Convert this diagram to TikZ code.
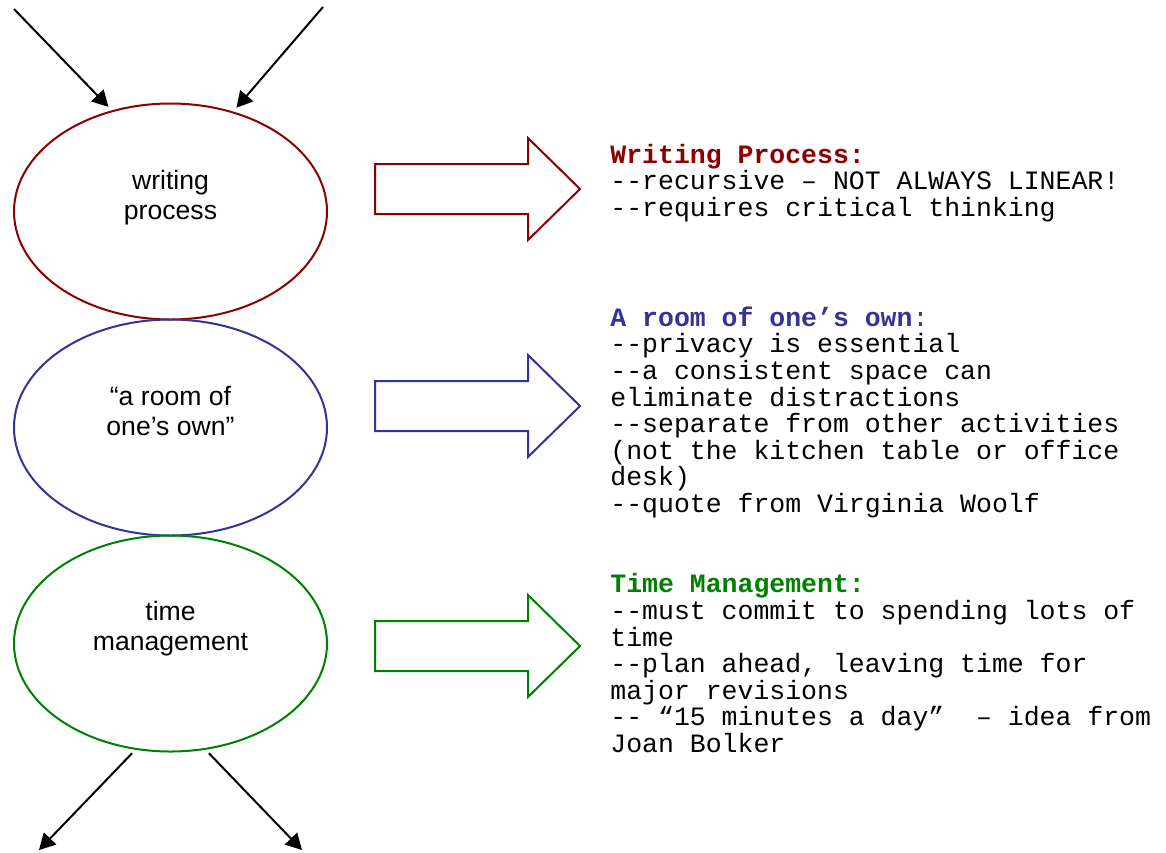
\documentclass[tikz,border=0pt]{standalone}
\usepackage{fontspec}
\setsansfont{Liberation Sans}
\setmonofont{Liberation Mono}
\usepackage{tikz}
\usetikzlibrary{arrows.meta, positioning, calc, shapes.geometric}
\tikzset{>={Triangle[length=8pt,width=8.5pt]}}
\definecolor{wpred}{HTML}{8B0000}
\definecolor{roomblue}{HTML}{333399}
\definecolor{timegreen}{HTML}{008000}

\begin{document}
\begin{tikzpicture}[x=0.5pt, y=-0.5pt,
    bubble/.style={ellipse, draw, line width=1pt, minimum width=156.5pt, minimum height=108pt, inner sep=0pt, outer sep=0pt},
    bubbletext/.style={align=center, font=\sffamily\fontsize{13.3}{15}\selectfont, inner sep=0pt, anchor=base},
    note/.style={align=left, font=\ttfamily\fontsize{13.25}{13.3}\selectfont, inner sep=0pt, anchor=base west},
    flow/.style={->, line width=1pt},
    bigarrow/.pic={\draw[line width=1pt, line join=miter] (0,-25) -- (153,-25) -- (153,-51) -- (205,0) -- (153,51) -- (153,25) -- (0,25) -- cycle;}]
    \useasboundingbox (0,0) rectangle (1166,852);
    % the three bubbles
    \node[bubble, draw=wpred] (wp) at (170.5,211.5) {};
    \node[bubble, draw=roomblue, below=0pt of wp] (room) {};
    \node[bubble, draw=timegreen, below=0pt of room] (tm) {};
    % base of a two line node = its last line
    \node[bubbletext] (wptext) at ($(wp.center)+(0,7.5)$) {writing\\process};
    \node[bubbletext] (roomtext) at ($(room.center)+(0,8)$) {“a room of\\one’s own”};
    \node[bubbletext] (tmtext) at ($(tm.center)+(0,7)$) {time\\management};
    % in and out
    \coordinate (src1) at (14,9);
    \coordinate (src2) at (323,7);
    \coordinate (sink1) at (39,850);
    \coordinate (sink2) at (302,850);
    \draw[flow, shorten >=3pt] (src1) -- (wp.120);
    \draw[flow, shorten >=3pt] (src2) -- (wp.58);
    \draw[flow, shorten <=3pt] (tm.252) -- (sink1);
    \draw[flow, shorten <=3pt] (tm.288) -- (sink2);
    % block arrows
    \pic[color=wpred] at (375,189) {bigarrow};
    \pic[color=roomblue] at (375,406) {bigarrow};
    \pic[color=timegreen] at (375,646) {bigarrow};
    % notes (placed by their last line)
    \node[note] (wpnote) at (610,216.5) {\textcolor{wpred}{\bfseries Writing Process:}\\--recursive – NOT ALWAYS LINEAR!\\--requires critical thinking};
    \node[note] (roomnote) at (610,512.5) {\textcolor{roomblue}{\bfseries A room of one’s own}\textcolor{roomblue}{:}\\--privacy is essential\\--a consistent space can\\eliminate distractions\\--separate from other activities\\(not the kitchen table or office\\desk)\\--quote from Virginia Woolf};
    \node[note] (tmnote) at (610,752.5) {\textcolor{timegreen}{\bfseries Time Management:}\\--must commit to spending lots of\\time\\--plan ahead, leaving time for\\major revisions\\-- “15 minutes a day”\ \ – idea from\\Joan Bolker};
\end{tikzpicture}
\end{document}
